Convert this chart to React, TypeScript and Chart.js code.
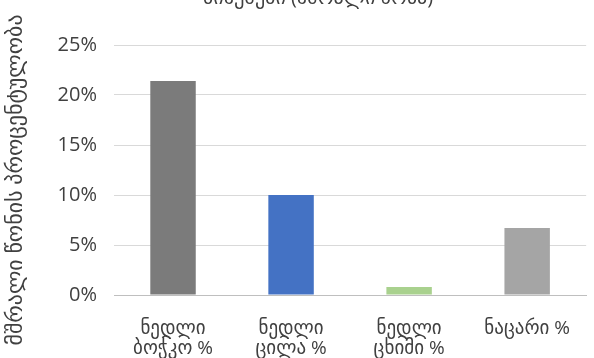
import React, { useEffect, useRef } from "react";
import { Chart, registerables } from "chart.js";

Chart.register(...registerables);

const categories: string[][] = [
  ["ნედლი", "ბოჭკო %"],
  ["ნედლი", "ცილა %"],
  ["ნედლი", "ცხიმი %"],
  ["ნაცარი %"],
];
const values: number[] = [21.4, 10.0, 0.8, 6.7];
const barColors: string[] = ["#7b7b7b", "#4472c4", "#a9d18e", "#a5a5a5"];
const titleText = "ნიმუშები (მშრალი წონა)";
const yAxisTitle = "მშრალი წონის პროცენტულობა";

const FONT = '"Open Sans", "DejaVu Sans", sans-serif';

const extraText = {
  id: "extraText",
  afterDraw(chart: any) {
    const ctx = chart.ctx;
    ctx.save();
    ctx.font = `20px ${FONT}`;
    ctx.fillStyle = "#404040";
    ctx.textAlign = "center";
    ctx.textBaseline = "alphabetic";
    ctx.fillText(titleText, 318, 4);
    ctx.translate(16, 180);
    ctx.rotate(-Math.PI / 2);
    ctx.font = `22px ${FONT}`;
    ctx.textBaseline = "middle";
    ctx.fillText(yAxisTitle, 0, 0);
    ctx.restore();
  },
};

export default function App() {
  const ref = useRef<HTMLCanvasElement>(null);
  useEffect(() => {
    document.body.style.margin = "0";
    const chart = new Chart(ref.current!, {
      type: "bar",
      data: {
        labels: categories,
        datasets: [
          {
            data: values,
            backgroundColor: barColors,
            barPercentage: 0.385,
            categoryPercentage: 1,
          },
        ],
      },
      options: {
        animation: false,
        responsive: false,
        devicePixelRatio: 1,
        layout: { padding: { top: 45, right: 0, bottom: 0, left: 0 } },
        plugins: {
          legend: { display: false },
          tooltip: { enabled: false },
          title: { display: false },
        },
        scales: {
          x: {
            grid: { display: false, drawTicks: false },
            border: { display: true, color: "#bfbfbf", width: 1 },
            ticks: {
              color: "#404040",
              font: { family: FONT, size: 19, lineHeight: 1.05 },
              padding: 24,
              maxRotation: 0,
              autoSkip: false,
            },
            afterFit: (s: any) => {
              s.height = 63;
            },
          },
          y: {
            min: 0,
            max: 25,
            grid: { color: "#d9d9d9", drawTicks: false },
            border: { display: false },
            ticks: {
              stepSize: 5,
              color: "#404040",
              font: { family: FONT, size: 20 },
              padding: 17,
              callback: (v: any) => `${v}%`,
            },
            afterFit: (s: any) => {
              s.width = 114;
            },
          },
        },
      },
      plugins: [extraText],
    });
    return () => chart.destroy();
  }, []);
  return <canvas ref={ref} width={594} height={358} style={{ display: "block" }} />;
}
